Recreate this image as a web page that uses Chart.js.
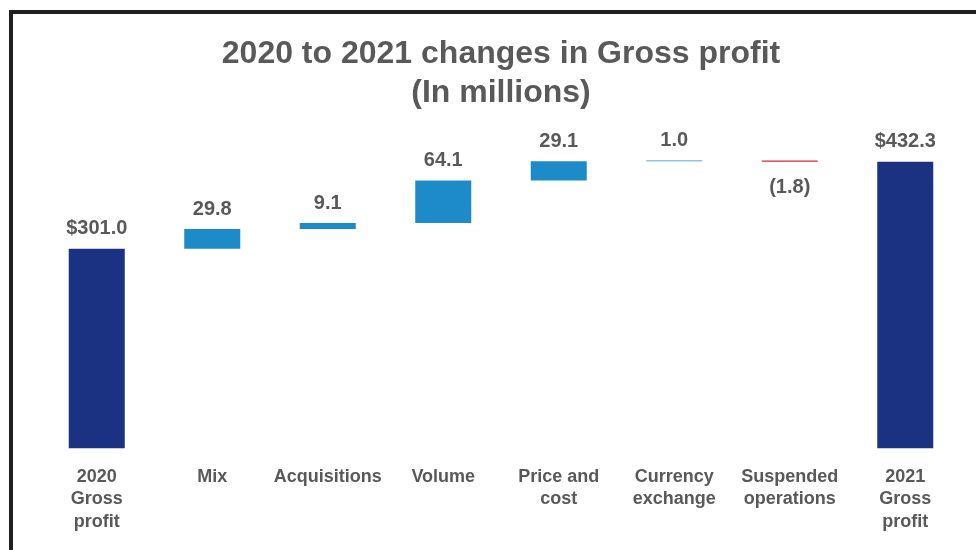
<!DOCTYPE html>
<html>
<head>
<meta charset="utf-8">
<script src="https://cdn.jsdelivr.net/npm/chart.js@4"></script>
<style>
  html, body { margin: 0; padding: 0; background: #fff; }
  #wrap { position: relative; width: 976px; height: 550px; overflow: hidden; }
  #frame { position: absolute; left: 9px; top: 10px; width: 2000px; height: 2000px;
           border-left: 4px solid #231f20; border-top: 4px solid #231f20; box-sizing: border-box; }
  canvas { position: absolute; left: 0; top: 0; }
</style>
</head>
<body>
<div id="wrap">
  <div id="frame"></div>
  <canvas id="c" width="976" height="550"></canvas>
</div>
<script>
// ---- data ----
const categories = [
  ['2020', 'Gross', 'profit'], 'Mix', 'Acquisitions', 'Volume',
  ['Price and', 'cost'], ['Currency', 'exchange'], ['Suspended', 'operations'],
  ['2021', 'Gross', 'profit']
];
const changes = [301.0, 29.8, 9.1, 64.1, 29.1, 1.0, -1.8, 432.3];
const isTotal = [true, false, false, false, false, false, false, true];
const valueLabels = ['$301.0', '29.8', '9.1', '64.1', '29.1', '1.0', '(1.8)', '$432.3'];
const titleLines = ['2020 to 2021 changes in Gross profit', '(In millions)'];

// ---- floating ranges for waterfall ----
let running = 0;
const ranges = changes.map((v, i) => {
  if (isTotal[i]) { running = v; return [0, v]; }
  const start = running; running += v; return [start, running];
});
const NAVY = '#1b3282', BLUE = '#1e8bc9', RED = '#d9272e', TEXT = '#595959';
const colors = changes.map((v, i) => isTotal[i] ? NAVY : (v < 0 ? RED : BLUE));

const labelPlugin = {
  id: 'valueLabels',
  afterDatasetsDraw(chart) {
    const ctx = chart.ctx;
    const meta = chart.getDatasetMeta(0);
    const y = chart.scales.y;
    ctx.save();
    ctx.font = 'bold 20px "Liberation Sans", Arial, sans-serif';
    ctx.fillStyle = TEXT;
    ctx.textAlign = 'center';
    ctx.textBaseline = 'middle';
    meta.data.forEach((bar, i) => {
      const [a, b] = ranges[i];
      const top = y.getPixelForValue(Math.max(a, b));
      const bottom = y.getPixelForValue(Math.min(a, b));
      if (changes[i] < 0) ctx.fillText(valueLabels[i], bar.x, bottom + 26);
      else ctx.fillText(valueLabels[i], bar.x, top - 20);
    });
    ctx.restore();
  }
};

new Chart(document.getElementById('c'), {
  type: 'bar',
  data: {
    labels: categories,
    datasets: [{
      data: ranges,
      backgroundColor: colors,
      borderWidth: 0,
      borderSkipped: false,
      barPercentage: 0.485,
      categoryPercentage: 1.0
    }]
  },
  options: {
    responsive: false,
    animation: false,
    devicePixelRatio: 1,
    layout: { padding: { left: 39, right: 13, top: 0, bottom: 0 } },
    plugins: {
      legend: { display: false },
      tooltip: { enabled: false },
      title: {
        display: true,
        text: titleLines,
        color: TEXT,
        font: { family: '"Liberation Sans", Arial, sans-serif', size: 32, weight: 'bold', lineHeight: 1.22 },
        padding: { top: 35, bottom: 17 }
      }
    },
    scales: {
      x: {
        grid: { display: false, drawTicks: false },
        border: { display: false },
        ticks: {
          color: TEXT,
          padding: 17,
          maxRotation: 0,
          autoSkip: false,
          font: { family: '"Liberation Sans", Arial, sans-serif', size: 18, weight: 'bold', lineHeight: 1.25 }
        }
      },
      y: {
        display: false,
        min: 0,
        max: 480
      }
    }
  },
  plugins: [labelPlugin]
});
</script>
</body>
</html>
